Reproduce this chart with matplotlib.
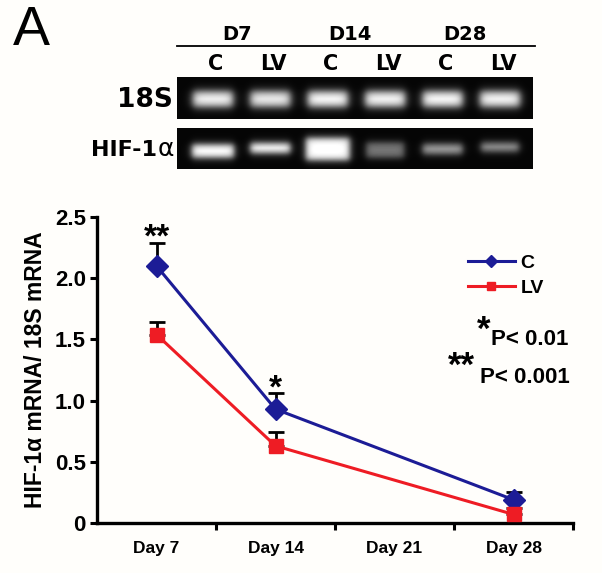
import numpy as np
import matplotlib
matplotlib.use("Agg")
import matplotlib.pyplot as plt

plt.rcParams['font.family'] = ['Liberation Sans', 'DejaVu Sans']

# RT-PCR quantification
days = ["Day 7", "Day 14", "Day 21", "Day 28"]
day_pos = [0, 1, 3]          # no sample on Day 21
c_mean = [2.10, 0.93, 0.19]
c_err = [0.19, 0.13, 0.06]
lv_mean = [1.54, 0.63, 0.07]
lv_err = [0.10, 0.11, 0.05]
sig_marks = ["**", "*", ""]

# gel panel
gel_days = ["D7", "D14", "D28"]
gel_lanes = ["C", "LV", "C", "LV", "C", "LV"]
band_18s = [0.95, 0.92, 0.98, 0.96, 0.98, 0.96]
band_hif = [1.0, 0.97, 1.0, 0.45, 0.6, 0.55]

BLUE = '#1c1c96'
RED = '#ee1c24'
BG = '#fffefb'

fig = plt.figure(figsize=(6.02, 5.73), dpi=100, facecolor=BG)

# ---- overlay in pixel coords for the gel and free text ----
ov = fig.add_axes([0, 0, 1, 1], zorder=5)
ov.patch.set_alpha(0)
ov.axis('off')

GX0, GX1 = 177, 533
lane_x = np.linspace(213, 500, 6)


def gel_image(intens, widths, heights, centers_y, y0, y1, soft=2.4):
    x = GX0 + np.arange(GX1 - GX0) + 0.5
    y = y0 + np.arange(y1 - y0) + 0.5
    X, Y = np.meshgrid(x, y)
    img = np.full(X.shape, 0.02)
    for cx, I, w, h, cy in zip(lane_x, intens, widths, heights, centers_y):
        sx = 1 / (1 + np.exp((np.abs(X - cx) - w / 2) / soft))
        sy = 1 / (1 + np.exp((np.abs(Y - cy) - h / 2) / soft))
        img += I * sx * sy
    return np.clip(img, 0, 1)


img18 = gel_image(band_18s, [40] * 6, [15] * 6, [99] * 6, 77, 119)
imghif = gel_image(band_hif, [42, 40, 44, 38, 40, 38], [13, 10, 22, 15, 10, 9],
                   [151, 148, 149, 150, 149, 147], 128, 169, soft=2.0)
ov.imshow(img18, cmap='gray', vmin=0, vmax=1, extent=(GX0, GX1, 119, 77),
          aspect='auto', interpolation='bilinear')
ov.imshow(imghif, cmap='gray', vmin=0, vmax=1, extent=(GX0, GX1, 169, 128),
          aspect='auto', interpolation='bilinear')
ov.set_xlim(0, 602)
ov.set_ylim(573, 0)

ov.text(13, 31, "A", fontsize=40, ha='left', va='center')
ov.plot([GX0, 535], [46, 46], color='black', lw=1.3)
for d, xc in zip(gel_days, [237, 350, 465]):
    ov.text(xc, 35, d, fontsize=14, fontweight='bold', family='DejaVu Sans',
            ha='center', va='center')
for ln, xc in zip(gel_lanes, lane_x + 3):
    ov.text(xc, 64, ln, fontsize=15, fontweight='bold', family='DejaVu Sans',
            ha='center', va='center')
ov.text(173, 100, "18S", fontsize=19, fontweight='bold', family='DejaVu Sans',
        ha='right', va='center')
ov.text(157, 156, "HIF-1", fontsize=16, fontweight='bold', family='DejaVu Sans',
        ha='right', va='baseline')
ov.text(174, 156, "α", fontsize=18, family='DejaVu Sans', ha='right', va='baseline')

# p-value key
ov.text(484, 340, "*", fontsize=25, fontweight='bold', ha='center', va='baseline')
ov.text(491, 345, "P< 0.01", fontsize=16, fontweight='bold', ha='left', va='baseline')
ov.text(461, 376, "**", fontsize=25, fontweight='bold', ha='center', va='baseline')
ov.text(480, 383, "P< 0.001", fontsize=16, fontweight='bold', ha='left', va='baseline')

# ---- line chart ----
ax = fig.add_axes([97 / 602, 1 - 523 / 573, 476 / 602, 306 / 573])
ax.set_facecolor(BG)

ax.errorbar(day_pos, c_mean, yerr=[np.zeros(3), c_err], fmt='none', ecolor='black',
            elinewidth=2, capsize=6, capthick=2, zorder=2)
ax.errorbar(day_pos, lv_mean, yerr=[np.zeros(3), lv_err], fmt='none', ecolor='black',
            elinewidth=2, capsize=6, capthick=2, zorder=2)
ax.plot(day_pos, c_mean, color=BLUE, lw=2.2, marker='D', ms=11, label='C', zorder=3)
ax.plot(day_pos, lv_mean, color=RED, lw=2.2, marker='s', ms=9.5, label='LV', zorder=3)

for x, m, e, s in zip(day_pos, c_mean, c_err, sig_marks):
    if s:
        ax.annotate(s, (x, m + e), xytext=(0, -3), textcoords='offset points',
                    fontsize=24, fontweight='bold', ha='center', va='baseline')

ax.set_xlim(-0.5, 3.5)
ax.set_ylim(0, 2.5)
ax.set_xticks(range(len(days)))
ax.set_xticklabels(days, fontsize=12.5, fontweight='bold')
ax.set_xticks(np.arange(len(days)) + 0.5, minor=True)
ax.tick_params(axis='x', which='major', length=0, pad=13)
ax.tick_params(axis='x', which='minor', length=5, width=2.2, direction='out')
ax.set_yticks([0, 0.5, 1.0, 1.5, 2.0, 2.5])
ax.set_yticklabels(["0", "0.5", "1.0", "1.5", "2.0", "2.5"], fontsize=16, fontweight='bold')
ax.tick_params(axis='y', length=5, width=2.2, pad=3)
ax.set_ylabel("HIF-1α mRNA/ 18S mRNA", fontsize=16.5, fontweight='bold', labelpad=6)

for side in ['top', 'right']:
    ax.spines[side].set_visible(False)
for side in ['left', 'bottom']:
    ax.spines[side].set_linewidth(2.4)

ax.legend(loc='center left', bbox_to_anchor=(468 / 602, 1 - 275.5 / 573),
          bbox_transform=fig.transFigure, frameon=False,
          handlelength=2.4, handletextpad=0.3, labelspacing=0.4,
          borderpad=0, borderaxespad=0, markerscale=0.6, prop={'weight': 'bold', 'size': 14})

fig.savefig("out.png", dpi=100, facecolor=BG)
